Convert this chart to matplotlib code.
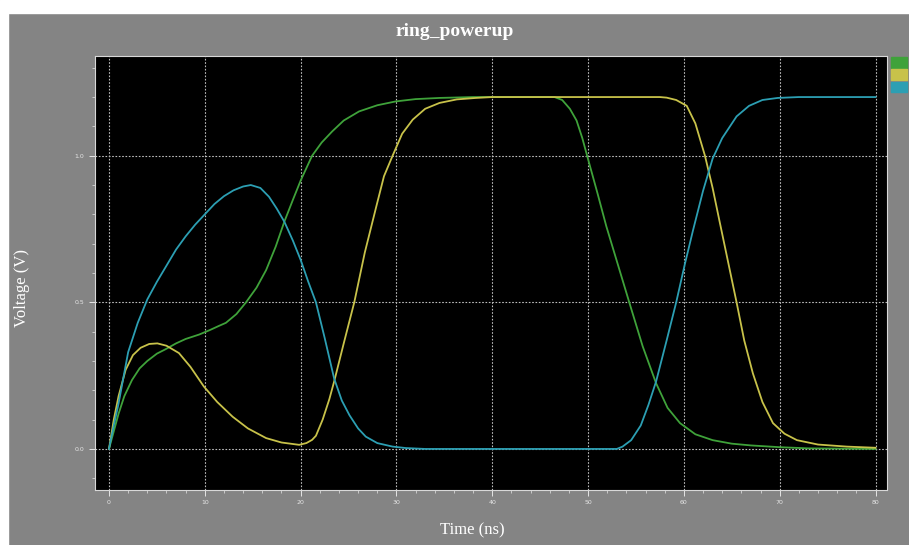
import matplotlib
matplotlib.use("Agg")
import matplotlib.pyplot as plt
from matplotlib.patches import Patch, Rectangle
from matplotlib.ticker import MultipleLocator

# transient sim traces (time in ns, voltage in V)
t_cyan = [0, 0.5, 1.0, 2.0, 3.0, 4.0, 5.0, 6.0, 7.0, 8.0, 9.0, 10.0, 11.0, 12.0, 13.0,
          14.0, 14.8, 15.8, 16.7, 17.5, 18.3, 19.2, 20.0, 20.8, 21.6, 22.5, 23.5, 24.3,
          25.1, 26.0, 26.8, 28.0, 29.6, 31.0, 33.0, 53.0, 53.6, 54.5, 55.5, 56.3, 57.1,
          58.2, 59.2, 60.1, 60.95, 62.0, 63.0, 64.0, 65.5, 66.8, 68.2, 69.8, 72.0, 80.0]
v_cyan = [0, 0.08, 0.155, 0.33, 0.43, 0.51, 0.57, 0.625, 0.68, 0.725, 0.765, 0.80, 0.835,
          0.862, 0.882, 0.895, 0.90, 0.89, 0.86, 0.82, 0.775, 0.71, 0.645, 0.57, 0.50,
          0.38, 0.24, 0.165, 0.115, 0.07, 0.042, 0.02, 0.008, 0.003, 0.0, 0.0, 0.008,
          0.03, 0.08, 0.15, 0.23, 0.37, 0.50, 0.63, 0.745, 0.88, 0.99, 1.06, 1.134,
          1.17, 1.19, 1.197, 1.2, 1.2]

t_green = [0, 0.5, 1.0, 1.6, 2.4, 3.2, 4.0, 5.0, 5.9, 7.0, 8.0, 9.4, 10.5, 11.5, 12.2,
           13.3, 14.3, 15.4, 16.4, 17.4, 18.3, 19.2, 20.0, 21.2, 22.2, 23.3, 24.5, 26.1,
           28.0, 29.9, 32.0, 34.5, 38.0, 46.5, 47.3, 48.1, 48.8, 49.4, 49.9, 51.0, 51.9,
           53.1, 54.3, 55.7, 57.1, 58.3, 59.6, 61.2, 63.0, 65.0, 67.0, 70.0, 73.0, 80.0]
v_green = [0, 0.06, 0.12, 0.18, 0.235, 0.275, 0.30, 0.325, 0.34, 0.36, 0.375, 0.39, 0.405,
           0.42, 0.43, 0.46, 0.50, 0.55, 0.61, 0.69, 0.775, 0.85, 0.915, 1.0, 1.045,
           1.083, 1.12, 1.151, 1.172, 1.185, 1.193, 1.197, 1.2, 1.2, 1.19, 1.16, 1.12,
           1.06, 1.0, 0.87, 0.76, 0.63, 0.50, 0.35, 0.224, 0.14, 0.088, 0.05, 0.03,
           0.018, 0.012, 0.006, 0.002, 0.0]

t_yellow = [0, 0.5, 1.0, 1.74, 2.5, 3.3, 4.2, 5.05, 6.0, 7.3, 8.5, 9.9, 11.3, 12.9, 14.5,
            16.4, 18.0, 19.85, 20.6, 21.2, 21.6, 22.3, 23.0, 23.5, 24.5, 25.6, 26.7, 27.9,
            28.7, 29.6, 30.6, 31.7, 33.0, 34.5, 36.3, 38.3, 40.0, 57.5, 58.2, 59.2, 60.3,
            61.2, 62.2, 63.0, 63.7, 64.6, 65.5, 66.3, 67.2, 68.2, 69.3, 70.5, 71.8, 74.0,
            77.0, 80.0]
v_yellow = [0, 0.10, 0.18, 0.27, 0.32, 0.345, 0.358, 0.36, 0.352, 0.327, 0.28, 0.213, 0.16,
            0.11, 0.07, 0.037, 0.022, 0.014, 0.02, 0.031, 0.045, 0.10, 0.17, 0.23, 0.36,
            0.50, 0.67, 0.827, 0.93, 1.0, 1.075, 1.123, 1.16, 1.18, 1.192, 1.197, 1.2, 1.2,
            1.198, 1.19, 1.17, 1.11, 1.0, 0.89, 0.78, 0.64, 0.50, 0.37, 0.258, 0.16, 0.088,
            0.052, 0.03, 0.015, 0.008, 0.004]

x_ticks = [0, 10, 20, 30, 40, 50, 60, 70, 80]
y_ticks = [0.0, 0.5, 1.0]

c_green = "#3fa23a"
c_yellow = "#c8c24a"
c_cyan = "#2c9fb3"
bg = "#848484"
light = "#e6e6e6"

fig = plt.figure(figsize=(9.09, 5.45), dpi=100, facecolor=bg)
ax = fig.add_axes([95/909, 1-490/545, (887-95)/909, (490-56)/545])
ax.set_facecolor("black")

ax.plot(t_green, v_green, color=c_green, lw=1.3)
ax.plot(t_yellow, v_yellow, color=c_yellow, lw=1.3)
ax.plot(t_cyan, v_cyan, color=c_cyan, lw=1.3)

ax.set_xlim(-1.46, 81.2)
ax.set_ylim(-0.14, 1.34)
ax.set_xticks(x_ticks)
ax.set_yticks(y_ticks)
ax.set_xticklabels([str(x) for x in x_ticks])
ax.set_yticklabels(["%.1f" % y for y in y_ticks])
ax.xaxis.set_minor_locator(MultipleLocator(2))
ax.yaxis.set_minor_locator(MultipleLocator(0.1))
ax.tick_params(which="both", colors=light, labelsize=4.5, direction="out")
ax.tick_params(which="major", length=4, width=0.7)
ax.tick_params(which="minor", length=2, width=0.5)
ax.grid(True, which="major", color="#bdbdbd", linestyle=(0, (1.5, 1.5)), linewidth=0.8)
for s in ax.spines.values():
    s.set_color("#d8d8d8")
    s.set_linewidth(0.8)

serif = ["Liberation Serif", "DejaVu Serif"]
fig.text(0.5, 1-32/545, "ring_powerup", ha="center", va="center", color="white",
         fontsize=14, fontweight="bold", family=serif)
ax.set_xlabel("Time (ns)", color="white", fontsize=12, family=serif)
ax.set_ylabel("Voltage (V)", color="white", fontsize=12, family=serif)
ax.xaxis.set_label_coords((472-95)/792, (490-530)/434)
ax.yaxis.set_label_coords((22-95)/792, (490-288)/434)
ax.xaxis.label.set_va("center")
ax.yaxis.label.set_va("center")

# little colour keys at the right edge
keys = [Patch(color=c_green), Patch(color=c_yellow), Patch(color=c_cyan)]
fig.legend(keys, ["", "", ""], loc="upper right", bbox_to_anchor=(1.0, 1-55/545),
           frameon=False, handlelength=1.4, handleheight=1.1, handletextpad=0,
           labelspacing=0.1, borderpad=0.1, borderaxespad=0.1, fontsize=8)

# white strips along top and left edge of the source image
fig.patches.append(Rectangle((0, 1-13/545), 1, 13/545, transform=fig.transFigure,
                             color="white", zorder=-1))
fig.patches.append(Rectangle((0, 0), 8/909, 1, transform=fig.transFigure,
                             color="white", zorder=-1))

fig.savefig("out.png", dpi=100, facecolor=bg)
